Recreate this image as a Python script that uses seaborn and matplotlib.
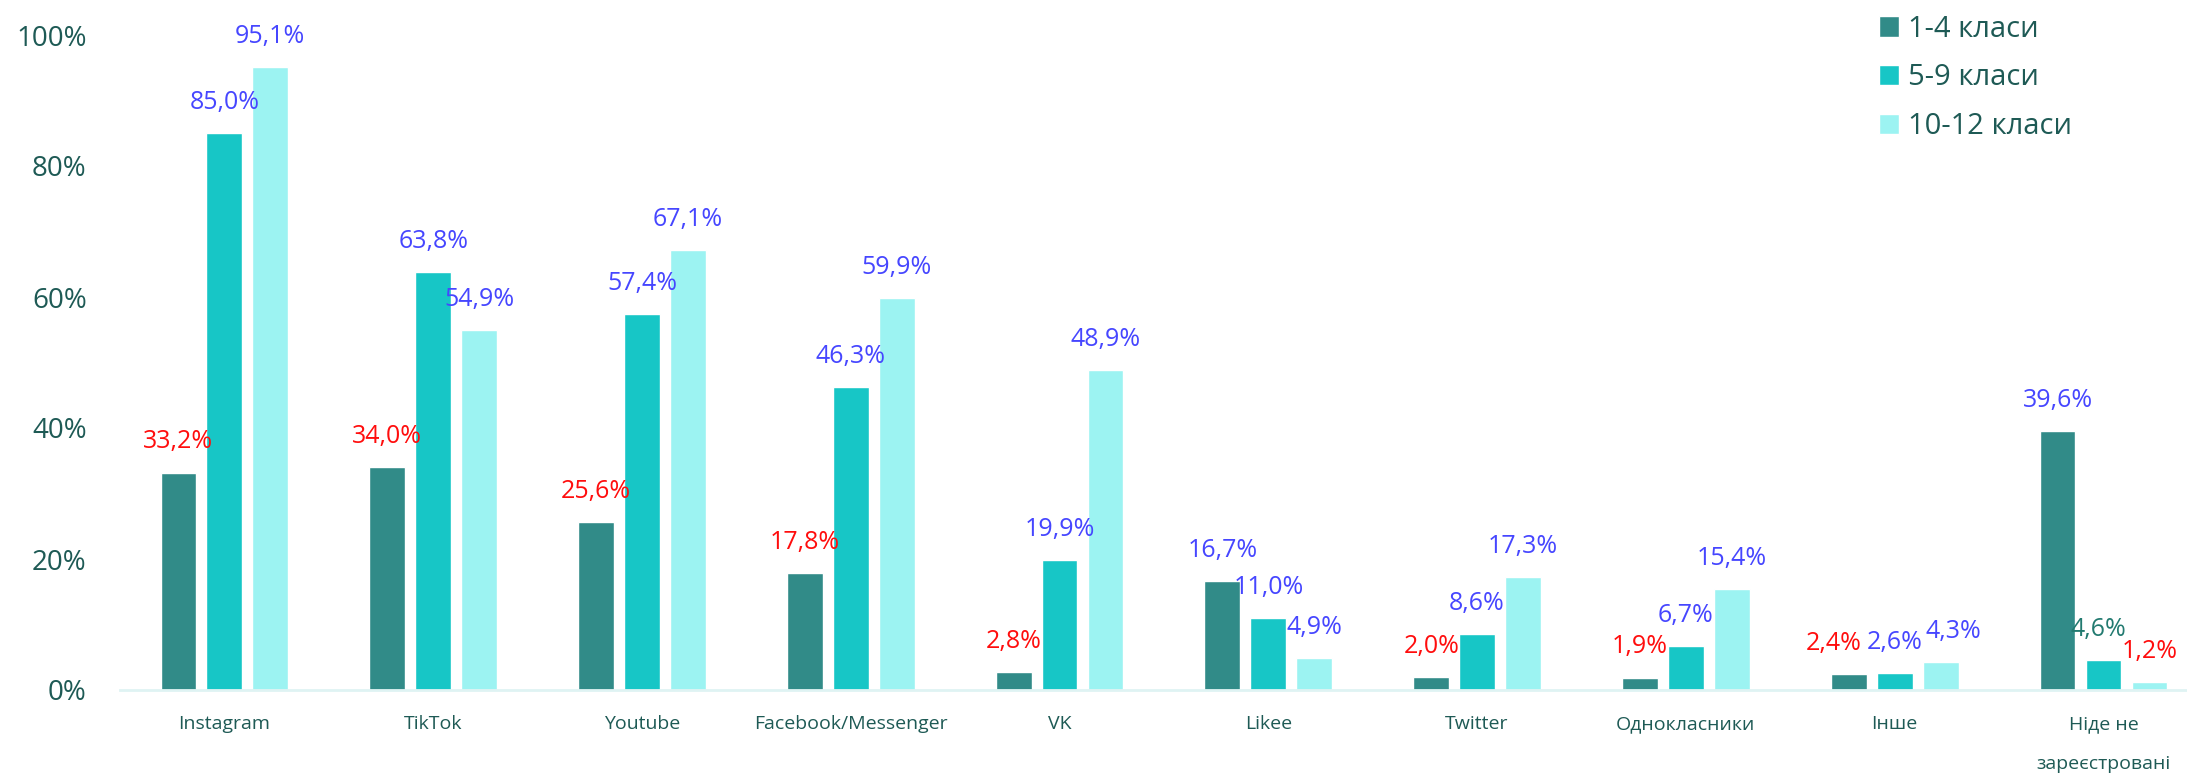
import seaborn as sns
from matplotlib import pyplot as plt
import pandas as pd

# values, percent
platforms = ['Instagram', 'TikTok', 'Youtube', 'Facebook/Messenger', 'VK', 'Likee',
             'Twitter', 'Однокласники', 'Інше', 'Ніде не\nзареєстровані']
grades = ['1-4 класи', '5-9 класи', '10-12 класи']
g1_4 = [33.2, 34.0, 25.6, 17.8, 2.8, 16.7, 2.0, 1.9, 2.4, 39.6]
g5_9 = [85.0, 63.8, 57.4, 46.3, 19.9, 11.0, 8.6, 6.7, 2.6, 4.6]
g10_12 = [95.1, 54.9, 67.1, 59.9, 48.9, 4.9, 17.3, 15.4, 4.3, 1.2]
yticks = [0, 20, 40, 60, 80, 100]

RED, BLUE, TEAL = '#ff0d0d', '#4646ff', '#227a70'
label_colors = [
    [RED, RED, RED, RED, RED, BLUE, RED, RED, RED, BLUE],
    [BLUE] * 9 + [TEAL],
    [BLUE] * 9 + [RED],
]
# labels that were pushed sideways in the original (points)
nudge = {(0, 8): -11, (2, 8): 9, (1, 9): -4}
palette = ['#318b88', '#17c6c6', '#9cf3f2']
txt = '#1e5a55'

sns.set_theme(style='white')
plt.rcParams['font.family'] = ['Open Sans', 'DejaVu Sans']

rows = []
for g, vals in zip(grades, [g1_4, g5_9, g10_12]):
    for p, v in zip(platforms, vals):
        rows.append({'platform': p, 'grade': g, 'value': v / 100})
df = pd.DataFrame(rows)

fig = plt.figure(figsize=(21.87, 7.75), dpi=100)
ax = fig.add_axes([120 / 2187, 85 / 775, 1 - 120 / 2187, 655 / 775])
sns.barplot(data=df, x='platform', y='value', hue='grade', palette=palette,
            order=platforms, hue_order=grades, width=0.66, gap=0.22,
            saturation=1, ax=ax, legend=True)

for i, (cont, cols) in enumerate(zip(ax.containers, label_colors)):
    for j, (bar, c) in enumerate(zip(cont, cols)):
        h = bar.get_height()
        ax.annotate(f'{h * 100:.1f}%'.replace('.', ','),
                    (bar.get_x() + bar.get_width() / 2, h),
                    xytext=(nudge.get((i, j), 0), 22), textcoords='offset points',
                    ha='center', va='center', color=c, fontsize=18,
                    annotation_clip=False)

ax.set_xlim(-0.5, 9.4)
ax.set_ylim(0, 1)
ax.set_yticks([t / 100 for t in yticks])
ax.set_yticklabels([f'{t}%' for t in yticks])
ax.tick_params(axis='y', labelsize=20, colors=txt, pad=24, length=0)
ax.tick_params(axis='x', labelsize=14, colors=txt, pad=18, length=0)
for lab in ax.get_xticklabels():
    lab.set_linespacing(2.55)
ax.set(xlabel=None, ylabel=None)
for s in ['top', 'right', 'left']:
    ax.spines[s].set_visible(False)
ax.spines['bottom'].set_color('#dff3f3')
ax.spines['bottom'].set_linewidth(2)

leg = ax.legend(loc='upper left', bbox_to_anchor=(1864 / 2187, 1.0),
                bbox_transform=fig.transFigure, frameon=False, fontsize=21,
                handlelength=0.7, handleheight=0.7, handletextpad=0.3,
                labelspacing=0.68, borderpad=0.0)
for t in leg.get_texts():
    t.set_color(txt)

fig.savefig('out.png', dpi=100)
